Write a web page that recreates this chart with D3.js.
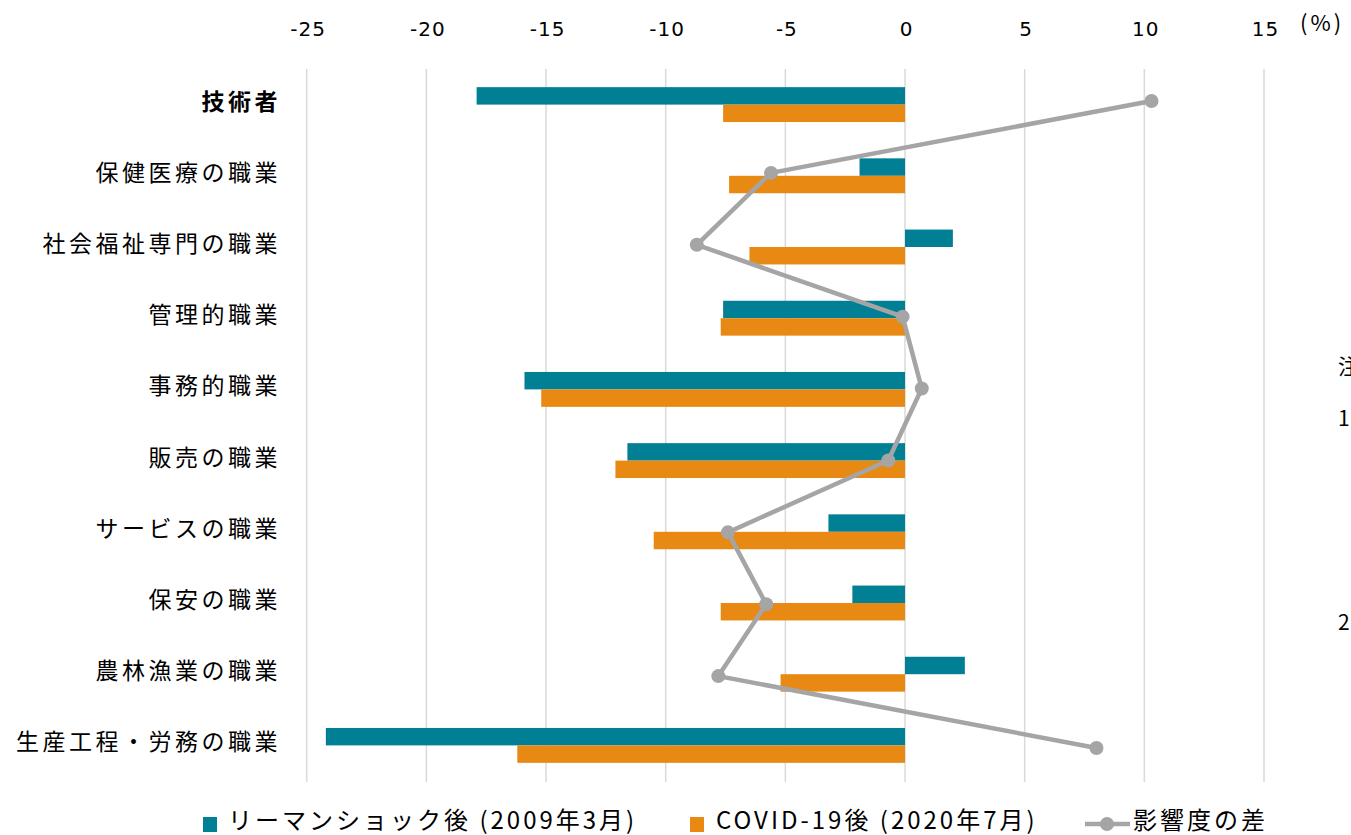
<!DOCTYPE html>
<html lang="ja">
<head>
<meta charset="utf-8">
<script src="https://cdn.jsdelivr.net/npm/d3@7/dist/d3.min.js"></script>
<style>
  html, body { margin: 0; padding: 0; background: #fff; }
  svg { display: block; font-family: "Noto Sans CJK JP", "Noto Sans", sans-serif; }
</style>
</head>
<body>
<svg id="chart" width="1351" height="835"></svg>
<script>
// 職業別の求人変化率 (%)
const categories = [
  "技術者", "保健医療の職業", "社会福祉専門の職業", "管理的職業", "事務的職業",
  "販売の職業", "サービスの職業", "保安の職業", "農林漁業の職業", "生産工程・労務の職業"
];
const lehman = [-17.9, -1.9, 2.0, -7.6, -15.9, -11.6, -3.2, -2.2, 2.5, -24.2];
const covid = [-7.6, -7.35, -6.5, -7.7, -15.2, -12.1, -10.5, -7.7, -5.2, -16.2];
const impactGap = [10.3, -5.6, -8.7, -0.1, 0.7, -0.7, -7.4, -5.8, -7.8, 8.0];
const xTicks = [-25, -20, -15, -10, -5, 0, 5, 10, 15];
const seriesNames = ["リーマンショック後 (2009年3月)", "COVID-19後 (2020年7月)", "影響度の差"];
const notes = ["注", "1", "2"];

const colors = { lehman: "#007F95", covid: "#E88914", line: "#A5A5A5", grid: "#D9D9D9", text: "#000" };

const svg = d3.select("#chart");

const x = d3.scaleLinear().domain([-25, 15]).range([306.7, 1264]);
const y = d3.scaleBand().domain(categories).range([69, 781]).paddingInner(0.51).paddingOuter(0.255);
const yLine = d3.scalePoint().domain(categories).range([101, 748]);

// gridlines
svg.append("g")
  .selectAll("line")
  .data(xTicks)
  .join("line")
  .attr("x1", d => x(d)).attr("x2", d => x(d))
  .attr("y1", 69).attr("y2", 782)
  .attr("stroke", colors.grid).attr("stroke-width", 1.5);

// top axis labels
const axis = d3.axisTop(x).tickValues(xTicks).tickSize(0).tickPadding(0).tickFormat(d3.format("d"));
const axisG = svg.append("g").attr("transform", "translate(0,36)").call(axis);
axisG.select(".domain").remove();
axisG.selectAll("text")
  .attr("font-size", 20).attr("fill", colors.text)
  .attr("dx", 1)
  .style("font-family", "'DejaVu Sans', sans-serif")
  .style("letter-spacing", "1px")
  .text(d => d < 0 ? "-" + Math.abs(d) : d);

svg.append("text").attr("x", 1300).attr("y", 31)
  .attr("font-size", 22).style("letter-spacing", "3px")
  .attr("fill", colors.text).text("(%)");

// category labels
svg.append("g")
  .selectAll("text")
  .data(categories)
  .join("text")
  .attr("x", 281)
  .attr("y", d => y(d) + y.bandwidth() / 2 + 5)
  .attr("text-anchor", "end")
  .attr("font-size", 23)
  .style("letter-spacing", "3.5px")
  .attr("font-weight", (d, i) => i === 0 ? "bold" : "normal")
  .attr("fill", colors.text)
  .text(d => d);

// bars
const half = y.bandwidth() / 2;
svg.append("g")
  .selectAll("rect")
  .data(categories)
  .join("rect")
  .attr("x", (d, i) => x(Math.min(0, lehman[i])))
  .attr("width", (d, i) => Math.abs(x(lehman[i]) - x(0)))
  .attr("y", d => y(d))
  .attr("height", half)
  .attr("fill", colors.lehman);

svg.append("g")
  .selectAll("rect")
  .data(categories)
  .join("rect")
  .attr("x", (d, i) => x(Math.min(0, covid[i])))
  .attr("width", (d, i) => Math.abs(x(covid[i]) - x(0)))
  .attr("y", d => y(d) + half)
  .attr("height", half)
  .attr("fill", colors.covid);

// impact gap line
const lineGen = d3.line()
  .x(d => x(d))
  .y((d, i) => yLine(categories[i]));

svg.append("path")
  .datum(impactGap)
  .attr("d", lineGen)
  .attr("fill", "none")
  .attr("stroke", colors.line)
  .attr("stroke-width", 4.5)
  .attr("stroke-linejoin", "round");

svg.append("g")
  .selectAll("circle")
  .data(impactGap)
  .join("circle")
  .attr("cx", d => x(d))
  .attr("cy", (d, i) => yLine(categories[i]))
  .attr("r", 7)
  .attr("fill", colors.line);

// notes on the right edge
svg.append("g")
  .selectAll("text")
  .data(notes)
  .join("text")
  .attr("x", 1338)
  .attr("y", (d, i) => [374, 426, 630][i])
  .attr("font-size", 21)
  .attr("fill", colors.text)
  .text(d => d);

// legend
const legend = svg.append("g").attr("font-size", 24).style("letter-spacing", "3px").attr("fill", colors.text);
legend.append("rect").attr("x", 203).attr("y", 817).attr("width", 14).attr("height", 15).attr("fill", colors.lehman);
legend.append("text").attr("x", 228).attr("y", 829).text(seriesNames[0]);
legend.append("rect").attr("x", 690).attr("y", 817).attr("width", 14).attr("height", 15).attr("fill", colors.covid);
legend.append("text").attr("x", 716).attr("y", 829).text(seriesNames[1]);
legend.append("line").attr("x1", 1085).attr("x2", 1130).attr("y1", 824).attr("y2", 824)
  .attr("stroke", colors.line).attr("stroke-width", 4.5);
legend.append("circle").attr("cx", 1107).attr("cy", 824).attr("r", 7).attr("fill", colors.line);
legend.append("text").attr("x", 1133).attr("y", 829).text(seriesNames[2]);
</script>
</body>
</html>
